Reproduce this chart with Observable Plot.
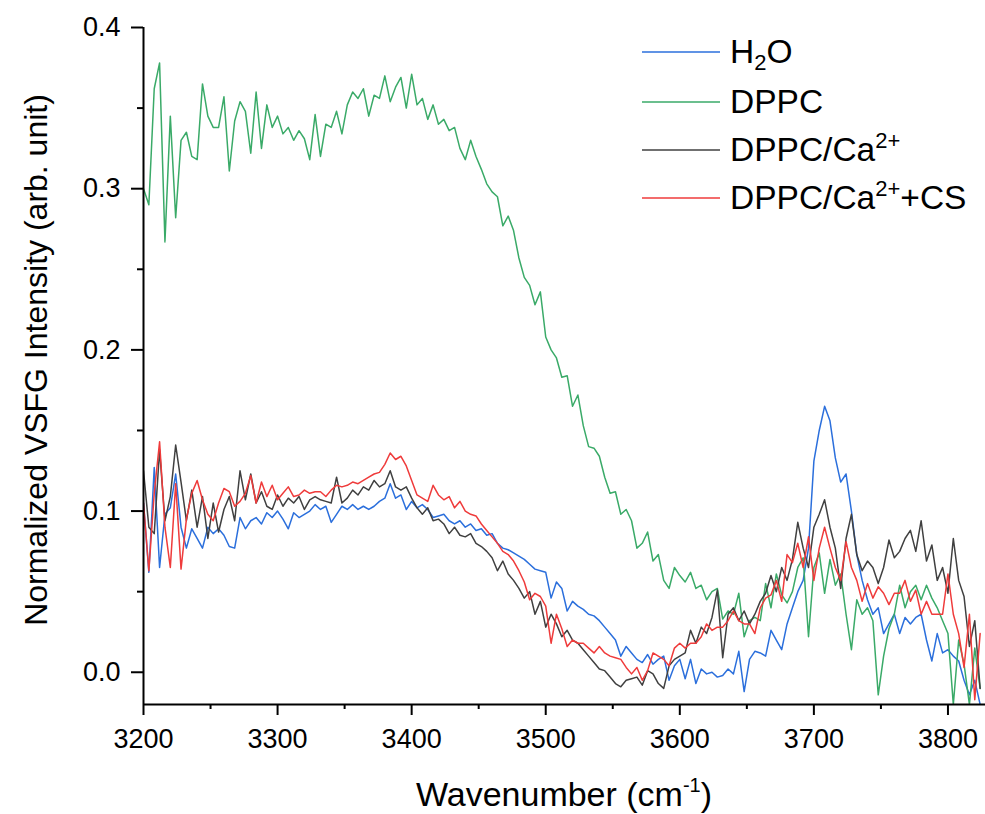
<!DOCTYPE html>
<html>
<head>
<meta charset="utf-8">
<script src="https://cdn.jsdelivr.net/npm/d3@7"></script>
<script src="https://cdn.jsdelivr.net/npm/@observablehq/plot@0.6"></script>
<style>
html, body { margin: 0; padding: 0; background: #fff; }
#chart { position: relative; width: 985px; height: 814px; }
</style>
</head>
<body>
<div id="chart"></div>
<script>
// ---- data ----
const wavenumber = [
  3200,3204,3208,3212,3216,3220,3224,3228,3232,3236,
  3240,3244,3248,3252,3256,3260,3264,3268,3272,3276,
  3280,3284,3288,3292,3296,3300,3304,3308,3312,3316,
  3320,3324,3328,3332,3336,3340,3344,3348,3352,3356,
  3360,3364,3368,3372,3376,3380,3384,3388,3392,3396,
  3400,3404,3408,3412,3416,3420,3424,3428,3432,3436,
  3440,3444,3448,3452,3456,3460,3464,3468,3472,3476,
  3480,3484,3488,3492,3496,3500,3504,3508,3512,3516,
  3520,3524,3528,3532,3536,3540,3544,3548,3552,3556,
  3560,3564,3568,3572,3576,3580,3584,3588,3592,3596,
  3600,3604,3608,3612,3616,3620,3624,3628,3632,3636,
  3640,3644,3648,3652,3656,3660,3664,3668,3672,3676,
  3680,3684,3688,3692,3696,3700,3704,3708,3712,3716,
  3720,3724,3728,3732,3736,3740,3744,3748,3752,3756,
  3760,3764,3768,3772,3776,3780,3784,3788,3792,3796,
  3800,3804,3808,3812,3816,3820,3824
];

const h2o = [
  0.105,0.062,0.127,0.065,0.098,0.102,0.123,0.090,0.077,0.089,
  0.083,0.077,0.090,0.086,0.089,0.085,0.078,0.077,0.096,0.089,
  0.094,0.096,0.092,0.099,0.096,0.100,0.095,0.089,0.099,0.096,
  0.098,0.100,0.104,0.101,0.103,0.093,0.098,0.103,0.101,0.104,
  0.101,0.103,0.101,0.103,0.106,0.108,0.117,0.108,0.110,0.101,
  0.106,0.102,0.104,0.101,0.096,0.097,0.098,0.094,0.092,0.094,
  0.090,0.092,0.088,0.089,0.085,0.086,0.080,0.077,0.076,0.074,
  0.072,0.070,0.067,0.064,0.063,0.062,0.046,0.056,0.052,0.038,
  0.044,0.041,0.039,0.036,0.035,0.032,0.028,0.024,0.020,0.010,
  0.016,0.012,0.008,0.006,0.011,0.005,0.008,0.010,-0.005,0.004,
  0.008,-0.004,0.008,-0.007,0.002,-0.001,0.000,-0.003,-0.002,0.002,
  -0.001,0.013,-0.012,0.008,0.013,0.012,0.010,0.026,0.020,0.014,
  0.030,0.040,0.050,0.057,0.077,0.131,0.150,0.165,0.156,0.133,
  0.118,0.123,0.100,0.073,0.057,0.045,0.036,0.040,0.024,0.030,
  0.036,0.024,0.034,0.030,0.034,0.036,0.020,0.007,0.024,0.012,
  0.014,0.010,0.007,-0.005,-0.014,-0.005,-0.020
];

const dppc = [
  0.300,0.290,0.362,0.378,0.267,0.345,0.282,0.330,0.335,0.320,
  0.318,0.365,0.345,0.338,0.338,0.357,0.311,0.342,0.354,0.348,
  0.322,0.360,0.325,0.352,0.338,0.345,0.334,0.338,0.330,0.336,
  0.331,0.318,0.346,0.320,0.340,0.338,0.348,0.334,0.352,0.360,
  0.356,0.362,0.345,0.358,0.356,0.370,0.354,0.363,0.369,0.350,
  0.371,0.352,0.356,0.343,0.352,0.340,0.343,0.336,0.338,0.325,
  0.318,0.330,0.320,0.312,0.303,0.298,0.295,0.277,0.283,0.274,
  0.257,0.245,0.240,0.228,0.236,0.208,0.200,0.195,0.183,0.184,
  0.165,0.172,0.153,0.140,0.139,0.134,0.121,0.111,0.112,0.098,
  0.101,0.094,0.077,0.080,0.087,0.069,0.073,0.057,0.052,0.065,
  0.060,0.056,0.062,0.052,0.054,0.045,0.050,0.052,0.033,0.038,
  0.036,0.049,0.022,0.032,0.034,0.032,0.055,0.040,0.061,0.048,
  0.043,0.050,0.065,0.071,0.022,0.065,0.074,0.049,0.070,0.054,
  0.061,0.036,0.014,0.045,0.036,0.040,0.032,-0.014,0.010,0.027,
  0.036,0.054,0.040,0.050,0.054,0.045,0.054,0.046,0.040,0.032,
  0.024,-0.020,0.020,0.005,-0.020,0.015,-0.010
];

const dppcCa = [
  0.125,0.090,0.086,0.138,0.094,0.109,0.141,0.118,0.094,0.113,
  0.090,0.109,0.083,0.105,0.087,0.101,0.109,0.094,0.125,0.107,
  0.123,0.105,0.112,0.103,0.101,0.110,0.103,0.108,0.105,0.109,
  0.101,0.107,0.109,0.107,0.106,0.105,0.121,0.105,0.108,0.113,
  0.110,0.115,0.113,0.119,0.115,0.117,0.125,0.115,0.113,0.115,
  0.108,0.102,0.098,0.102,0.094,0.095,0.092,0.086,0.090,0.085,
  0.084,0.086,0.080,0.078,0.075,0.071,0.063,0.069,0.061,0.057,
  0.052,0.046,0.050,0.036,0.044,0.028,0.036,0.030,0.022,0.026,
  0.020,0.018,0.014,0.010,0.006,0.002,0.001,-0.003,-0.007,-0.009,
  -0.005,-0.004,-0.003,-0.008,0.001,-0.001,-0.007,-0.010,0.004,0.008,
  0.010,0.012,0.026,0.018,0.028,0.024,0.034,0.051,0.009,0.036,
  0.040,0.032,0.038,0.030,0.036,0.044,0.049,0.060,0.050,0.065,
  0.057,0.070,0.093,0.077,0.065,0.090,0.098,0.107,0.090,0.077,
  0.052,0.083,0.098,0.073,0.063,0.069,0.065,0.055,0.065,0.082,
  0.071,0.075,0.083,0.088,0.075,0.094,0.069,0.079,0.057,0.065,
  0.049,0.083,0.057,0.047,0.016,0.032,-0.010
];

const dppcCaCs = [
  0.105,0.063,0.111,0.143,0.090,0.065,0.117,0.064,0.095,0.111,
  0.119,0.107,0.098,0.094,0.105,0.114,0.112,0.103,0.106,0.111,
  0.122,0.105,0.118,0.109,0.116,0.107,0.111,0.115,0.109,0.110,
  0.113,0.111,0.112,0.112,0.109,0.113,0.116,0.115,0.116,0.118,
  0.117,0.119,0.121,0.123,0.124,0.129,0.136,0.132,0.134,0.128,
  0.119,0.110,0.108,0.106,0.116,0.110,0.107,0.109,0.102,0.106,
  0.100,0.098,0.097,0.092,0.088,0.084,0.080,0.075,0.073,0.069,
  0.063,0.056,0.045,0.049,0.047,0.041,0.018,0.036,0.027,0.016,
  0.020,0.018,0.018,0.015,0.012,0.016,0.012,0.010,0.009,0.008,
  0.003,-0.001,0.003,-0.005,0.001,0.012,0.010,0.008,0.004,0.015,
  0.018,0.015,0.018,0.018,0.022,0.030,0.026,0.028,0.028,0.032,
  0.038,0.032,0.030,0.030,0.024,0.040,0.046,0.048,0.057,0.044,
  0.073,0.068,0.080,0.065,0.084,0.057,0.077,0.090,0.077,0.065,
  0.057,0.081,0.065,0.057,0.044,0.055,0.046,0.053,0.049,0.042,
  0.049,0.049,0.057,0.044,0.051,0.036,0.044,0.036,0.036,0.036,
  0.061,0.036,0.024,0.003,0.036,-0.017,0.024
];

const seriesNames = ["H2O", "DPPC", "DPPC/Ca2+", "DPPC/Ca2+ +CS"];
const seriesColors = ["#2b6fdc", "#3aaa68", "#404040", "#ef3b3b"];
const xTicks = [3200, 3300, 3400, 3500, 3600, 3700, 3800];
const xMinorTicks = [3250, 3350, 3450, 3550, 3650, 3750];
const yTicks = [0.0, 0.1, 0.2, 0.3, 0.4];
const yMinorTicks = [0.05, 0.15, 0.25, 0.35];

// ---- build the long table ----
const seriesValues = [h2o, dppc, dppcCa, dppcCaCs];
const rows = [];
seriesValues.forEach((vals, k) => {
  vals.forEach((v, i) => rows.push({x: wavenumber[i], y: v, series: seriesNames[k]}));
});

const FONT = "'Liberation Sans', Arial, Helvetica, sans-serif";

const plot = Plot.plot({
  width: 985,
  height: 814,
  marginLeft: 143,
  marginRight: 0,
  marginTop: 27,
  marginBottom: 110,
  style: {fontFamily: FONT, color: "#000", background: "#fff", overflow: "visible"},
  x: {domain: [3200, 3828]},
  y: {domain: [-0.02, 0.4]},
  color: {domain: seriesNames, range: seriesColors},
  marks: [
    Plot.line(rows, {x: "x", y: "y", z: "series", stroke: "series", strokeWidth: 1.5, clip: true}),
    Plot.axisX(xMinorTicks, {tickSize: 5, strokeWidth: 2, tickFormat: () => "", label: null}),
    Plot.axisX(xTicks, {tickSize: 11, tickPadding: 13, strokeWidth: 2, fontSize: 27, label: null, tickFormat: d => String(d)}),
    Plot.axisY(yMinorTicks, {tickSize: 6, strokeWidth: 2, tickFormat: () => "", label: null}),
    Plot.axisY(yTicks, {tickSize: 12, tickPadding: 11, strokeWidth: 2, fontSize: 27, label: null, tickFormat: d3.format(".1f")}),
    Plot.ruleX([3200], {strokeWidth: 2}),
    Plot.ruleY([-0.02], {strokeWidth: 2})
  ]
});

document.getElementById("chart").appendChild(plot);

// ---- titles and legend (text with sub/superscripts) ----
const svg = d3.select(plot);

const xt = svg.append("text")
  .attr("x", 564).attr("y", 806)
  .attr("text-anchor", "middle")
  .attr("font-family", FONT).attr("font-size", 34).attr("fill", "#000");
xt.append("tspan").text("Wavenumber (cm");
xt.append("tspan").attr("font-size", 20).attr("dy", -14).text("-1");
xt.append("tspan").attr("dy", 14).text(")");

svg.append("text")
  .attr("transform", "translate(47,360) rotate(-90)")
  .attr("text-anchor", "middle")
  .attr("font-family", FONT).attr("font-size", 32).attr("fill", "#000")
  .text("Normalized VSFG Intensity (arb. unit)");

const legendY = [52, 102, 150, 198];
const lg = svg.append("g")
  .attr("font-family", FONT).attr("font-size", 33.5).attr("fill", "#000")
  .attr("text-anchor", "start");
legendY.forEach((ly, i) => {
  lg.append("line").attr("x1", 642).attr("x2", 720).attr("y1", ly).attr("y2", ly)
    .attr("stroke", seriesColors[i]).attr("stroke-width", 1.6);
  const t = lg.append("text").attr("x", 730).attr("y", ly + 11).attr("text-anchor", "start");
  if (i === 0) {
    t.append("tspan").text("H");
    t.append("tspan").attr("font-size", 22).attr("dy", 7).text("2");
    t.append("tspan").attr("dy", -7).text("O");
  } else if (i === 1) {
    t.append("tspan").text("DPPC");
  } else {
    t.append("tspan").text("DPPC/Ca");
    t.append("tspan").attr("font-size", 22).attr("dy", -13).text("2+");
    if (i === 3) t.append("tspan").attr("dy", 13).text("+CS");
  }
});
</script>
</body>
</html>
